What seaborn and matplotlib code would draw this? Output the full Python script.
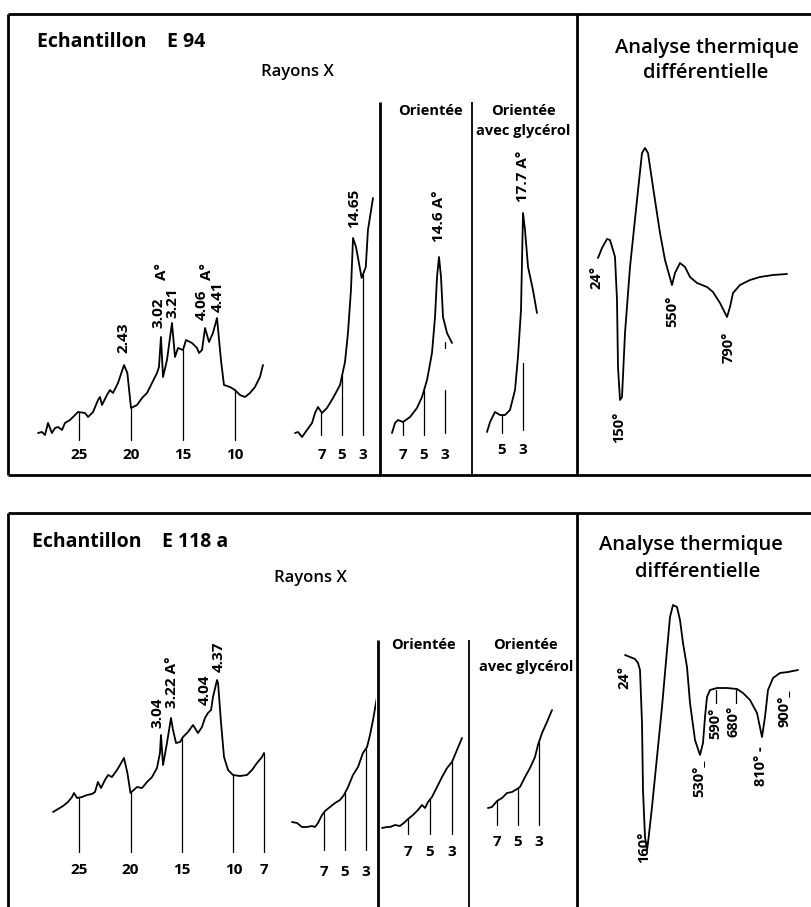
import numpy as np
import pandas as pd
import seaborn as sns
import matplotlib.pyplot as plt

# ---- values ----
# Echantillon E 94, rayons X, poudre (2 theta in degrees, intensity in arbitrary units)
e94_theta = [28.94, 28.56, 28.27, 27.98, 27.60, 27.31, 27.02, 26.63, 26.35, 25.87,
             25.38, 25.10, 24.42, 24.13, 23.65, 23.17, 22.98, 22.79, 22.31, 22.02,
             21.73, 21.25, 20.67, 20.35, 20.00, 19.42, 18.94, 18.46, 17.98, 17.50,
             17.31, 17.12, 16.92, 16.54, 16.06, 15.77, 15.48, 15.00, 14.71, 14.13,
             13.65, 13.46, 13.17, 12.88, 12.50, 12.12, 11.73, 11.35, 11.06, 10.48,
             10.00, 9.52, 9.04, 8.56, 8.08, 7.60, 7.31]
e94_int = [7, 8, 5, 17, 7, 12, 13, 10, 17, 20,
           25, 28, 27, 23, 28, 40, 43, 35, 45, 50,
           47, 57, 75, 67, 32, 35, 42, 47, 57, 67,
           73, 103, 63, 80, 117, 83, 92, 90, 100, 97,
           92, 87, 90, 112, 98, 107, 122, 80, 55, 53,
           50, 45, 43, 47, 53, 63, 75]
e94_ticks = [25, 20, 15, 10]
e94_peaks = [("2.43", 20.77, 87), ("3.02", 17.40, 112), ("A°", 17.02, 160),
             ("3.21", 16.06, 122), ("4.06", 13.17, 120), ("A°", 12.69, 160),
             ("4.41", 11.63, 128)]

# E 94, low angles
e94_low_theta = [9.57, 9.28, 8.89, 8.41, 7.92, 7.63, 7.34, 6.95, 6.47, 5.88,
                 5.20, 4.72, 4.43, 4.14, 3.94, 3.65, 3.10, 2.70, 2.49, 2.00]
e94_low_int = [2, 3, -2, 5, 12, 22, 28, 22, 27, 37,
               50, 73, 102, 145, 197, 188, 157, 168, 205, 237]
e94_low_peaks = [("14.65", 3.83, 207)]

# E 94, orientée
e94_ori_theta = [8.05, 7.76, 7.48, 7.00, 6.33, 5.67, 5.19, 4.71, 4.24, 3.95,
                 3.76, 3.57, 3.38, 3.19, 2.81, 2.33]
e94_ori_int = [2, 12, 15, 13, 18, 27, 38, 55, 82, 118,
               158, 178, 158, 118, 102, 92]
e94_ori_peaks = [("14.6 A°", 3.57, 193)]

# E 94, orientée avec glycérol
e94_gly_theta = [6.43, 6.14, 5.67, 5.19, 4.71, 4.24, 3.76, 3.48, 3.19, 3.00,
                 2.81, 2.52, 2.05, 1.67]
e94_gly_int = [1, 11, 21, 18, 18, 23, 43, 76, 123, 220,
               203, 166, 143, 120]
e94_gly_peaks = [("17.7 A°", 3.00, 231)]

low_ticks = [7, 5, 3]

# E 94, analyse thermique différentielle (chart position, delta T arbitrary units)
e94_dta_t = [0, 4, 9, 12, 15, 17, 19, 20, 22, 24, 27, 32, 39, 44, 47, 50, 55, 62,
             67, 74, 77, 82, 87, 92, 99, 109, 115, 122, 129, 132, 135, 142, 152,
             162, 175, 189]
e94_dta_d = [17, 27, 36, 35, 25, 18, -25, -92, -125, -122, -58, 8, 75, 122, 127,
             122, 88, 42, 15, -10, 2, 12, 8, -2, -8, -12, -17, -28, -42, -32, -18,
             -10, -5, -2, 0, 1]
e94_dta_labels = [("24°", -2, -3), ("150°", 21, -152), ("550°", 74, -36),
                  ("790°", 131, -72)]

# Echantillon E 118 a, rayons X, poudre
e118_theta = [27.52, 27.04, 26.55, 26.07, 25.68, 25.49, 25.19, 24.71, 24.22, 23.74,
              23.45, 23.16, 22.86, 22.48, 22.18, 21.80, 21.31, 21.02, 20.63, 20.30,
              20.00, 19.37, 18.88, 18.40, 17.91, 17.43, 17.14, 17.04, 16.84, 16.46,
              16.07, 15.87, 15.58, 15.19, 14.90, 14.42, 13.93, 13.45, 13.06, 12.77,
              12.48, 12.18, 11.99, 11.60, 11.50, 11.21, 10.92, 10.53, 10.05, 9.37,
              8.69, 8.20, 7.72, 7.23, 7.04]
e118_int = [40, 43, 46, 50, 55, 59, 54, 55, 57, 58,
            60, 70, 64, 72, 77, 75, 82, 87, 94, 79,
            59, 65, 64, 70, 75, 84, 99, 117, 87, 109,
            134, 122, 109, 110, 115, 120, 127, 119, 125, 134,
            139, 142, 155, 172, 169, 129, 95, 82, 77, 76,
            77, 82, 89, 95, 99]
e118_ticks = [25, 20, 15, 10, 7]
e118_peaks = [("3.04", 17.43, 124), ("3.22 A°", 15.97, 144), ("4.04", 12.77, 147),
              ("4.37", 11.41, 180)]

e118_low_theta = [10.05, 9.57, 9.10, 8.62, 8.14, 7.86, 7.57, 7.19, 6.90, 6.43, 5.95,
                  5.48, 5.10, 4.71, 4.24, 3.76, 3.29, 2.90, 2.62, 2.33, 2.05, 1.95]
e118_low_int = [28, 27, 23, 23, 24, 23, 27, 35, 39, 43, 47,
                50, 55, 63, 75, 83, 97, 103, 115, 130, 147, 153]

e118_ori_theta = [9.36, 8.91, 8.64, 8.18, 7.73, 7.27, 7.00, 6.55, 6.09, 5.73,
                  5.45, 5.18, 4.82, 4.36, 3.91, 3.45, 3.00, 2.55, 2.09]
e118_ori_int = [6, 7, 7, 9, 8, 12, 15, 19, 24, 29,
                26, 32, 37, 47, 57, 66, 72, 84, 96]

e118_gly_theta = [7.86, 7.48, 7.00, 6.52, 6.05, 5.57, 5.10, 4.81, 4.33, 3.86,
                  3.38, 3.10, 2.71, 2.24, 1.76]
e118_gly_int = [17, 18, 24, 27, 32, 33, 36, 38, 48, 57,
                68, 80, 92, 103, 115]

e118_dta_t = [0, 5, 10, 13, 15, 17, 18, 20, 22, 23, 27, 32, 37, 42, 45, 48, 52, 55,
              58, 62, 65, 70, 75, 78, 80, 82, 85, 92, 102, 112, 118, 125, 132, 137,
              140, 143, 148, 155, 163, 173]
e118_dta_d = [17, 15, 13, 9, 2, -51, -118, -165, -178, -171, -135, -85, -35, 22, 55,
              67, 65, 52, 29, 5, -31, -68, -83, -71, -45, -25, -18, -16, -16, -17,
              -21, -28, -41, -65, -45, -18, -6, -1, 0, 2]
e118_dta_labels = [("24°", -1, -5), ("160°_", 18, -172), ("530°_", 73, -106),
                   ("590°", 90, -51), ("680°", 109, -49), ("810° -", 136, -94),
                   ("900°_", 159, -36)]
e118_dta_marks = [(91, -18, -31), (111, -17, -31)]

sns.set_theme(style="white")
plt.rcParams['font.family'] = ['Open Sans', 'DejaVu Sans']
plt.rcParams['text.color'] = 'black'

W, H = 812, 907
fig = plt.figure(figsize=(W / 100, H / 100), dpi=100)
fig.patch.set_facecolor('white')


def place(left, top, right, bottom, x0, px0, sx, py0):
    # axes over a pixel box; data x0 sits at pixel column px0 (sx px per unit),
    # intensity 0 sits at pixel row py0 (1 px per unit)
    ax = fig.add_axes([left / W, 1 - bottom / H, (right - left) / W, (bottom - top) / H])
    ax.set_axis_off()
    return ax, (x0 + (left - px0) / sx, x0 + (right - px0) / sx), (py0 - bottom, py0 - top)


def trace(box, x, y):
    ax, xl, yl = box
    df = pd.DataFrame({'x': x, 'y': y})
    sns.lineplot(data=df, x='x', y='y', ax=ax, sort=False, estimator=None,
                 color='black', lw=1.3)
    ax.set_xlim(*xl)
    ax.set_ylim(*yl)
    ax.set_axis_off()
    return ax


def ticks(ax, x, y, positions, label_y, tops=None, bottoms=None):
    order = np.argsort(x)
    xs, ys = np.asarray(x)[order], np.asarray(y)[order]
    for i, p in enumerate(positions):
        top = np.interp(p, xs, ys) if tops is None or tops[i] is None else tops[i]
        bot = 0 if bottoms is None else bottoms[i]
        ax.plot([p, p], [bot, top], color='black', lw=0.9)
        ax.text(p, label_y, str(p), ha='center', va='center', fontsize=11,
                fontweight='bold')


def peaks(ax, labels):
    for txt, x, y in labels:
        ax.text(x, y, txt, rotation=90, ha='center', va='bottom', fontsize=11,
                fontweight='bold')


def dta_labels(ax, labels):
    for txt, x, y in labels:
        ax.text(x, y, txt, rotation=90, ha='center', va='center', fontsize=10.5,
                fontweight='bold')


# ---- frames and headings (pixel layout) ----
frame = fig.add_axes([0, 0, 1, 1])
frame.set_xlim(0, W)
frame.set_ylim(H, 0)
frame.set_axis_off()
for xs_, ys_, lw in [([8, 812], [14, 14], 2.0), ([8, 812], [475, 475], 2.0),
                     ([8, 8], [14, 475], 2.0), ([577, 577], [14, 475], 2.0),
                     ([380, 380], [102, 475], 2.0), ([472, 472], [102, 475], 1.3),
                     ([8, 812], [513, 513], 2.0), ([8, 8], [513, 907], 2.0),
                     ([577, 577], [513, 907], 2.0),
                     ([378, 378], [640, 907], 2.0), ([469, 469], [640, 907], 1.3)]:
    frame.plot(xs_, ys_, color='black', lw=lw, solid_capstyle='butt')

heading = dict(fontweight='semibold', ha='center', va='center')
frame.text(37, 42, "Echantillon    E 94", fontsize=14, fontweight='bold', va='center')
frame.text(297, 72, "Rayons X", fontsize=12, **heading)
frame.text(707, 48, "Analyse thermique", fontsize=14.5, **heading)
frame.text(706, 73, "différentielle", fontsize=14.5, **heading)
frame.text(430, 111, "Orientée", fontsize=10.5, fontweight='bold', ha='center', va='center')
frame.text(523, 111, "Orientée", fontsize=10.5, fontweight='bold', ha='center', va='center')
frame.text(523, 131, "avec glycérol", fontsize=10.5, fontweight='bold', ha='center', va='center')

frame.text(32, 542, "Echantillon    E 118 a", fontsize=14, fontweight='bold', va='center')
frame.text(310, 578, "Rayons X", fontsize=12, **heading)
frame.text(691, 545, "Analyse thermique", fontsize=14.5, **heading)
frame.text(698, 572, "différentielle", fontsize=14.5, **heading)
frame.text(423, 645, "Orientée", fontsize=10.5, fontweight='bold', ha='center', va='center')
frame.text(525, 645, "Orientée", fontsize=10.5, fontweight='bold', ha='center', va='center')
frame.text(526, 667, "avec glycérol", fontsize=10.5, fontweight='bold', ha='center', va='center')

# ---- E 94 ----
ax = trace(place(25, 250, 275, 470, 25, 79, -10.4, 440), e94_theta, e94_int)
ticks(ax, e94_theta, e94_int, e94_ticks, -15)
peaks(ax, e94_peaks)

ax = trace(place(285, 150, 377, 470, 7, 321.5, -10.3, 435), e94_low_theta, e94_low_int)
ticks(ax, e94_low_theta, e94_low_int, low_ticks, -20)
peaks(ax, e94_low_peaks)

ax = trace(place(384, 150, 468, 470, 7, 403, -10.5, 435), e94_ori_theta, e94_ori_int)
ticks(ax, e94_ori_theta, e94_ori_int, low_ticks, -20, tops=[None, None, 45],
      bottoms=[0, 0, 2])
ax.plot([3, 3], [87, 93], color='black', lw=0.9)
peaks(ax, e94_ori_peaks)

ax = trace(place(476, 150, 572, 470, 5, 502, -10.5, 433), e94_gly_theta, e94_gly_int)
ticks(ax, e94_gly_theta, e94_gly_int, [5, 3], -17, tops=[None, 70], bottoms=[0, 3])
peaks(ax, e94_gly_peaks)

ax = trace(place(580, 130, 805, 470, 0, 598, 1, 275), e94_dta_t, e94_dta_d)
dta_labels(ax, e94_dta_labels)

# ---- E 118 a ----
ax = trace(place(25, 620, 275, 900, 25, 79, -10.3, 852), e118_theta, e118_int)
ticks(ax, e118_theta, e118_int, e118_ticks, -18)
peaks(ax, e118_peaks)

ax = trace(place(285, 640, 376, 900, 7, 324, -10.5, 850), e118_low_theta, e118_low_int)
ticks(ax, e118_low_theta, e118_low_int, low_ticks, -22)

ax = trace(place(381, 640, 467, 900, 7, 408, -11, 834), e118_ori_theta, e118_ori_int)
ticks(ax, e118_ori_theta, e118_ori_int, low_ticks, -18)

ax = trace(place(472, 640, 575, 900, 7, 497, -10.5, 825), e118_gly_theta, e118_gly_int)
ticks(ax, e118_gly_theta, e118_gly_int, low_ticks, -17)

ax = trace(place(580, 590, 810, 900, 0, 625, 1, 672), e118_dta_t, e118_dta_d)
for t, d0, d1 in e118_dta_marks:
    ax.plot([t, t], [d0, d1], color='black', lw=0.9)
dta_labels(ax, e118_dta_labels)

fig.savefig('out.png', dpi=100, facecolor='white')
